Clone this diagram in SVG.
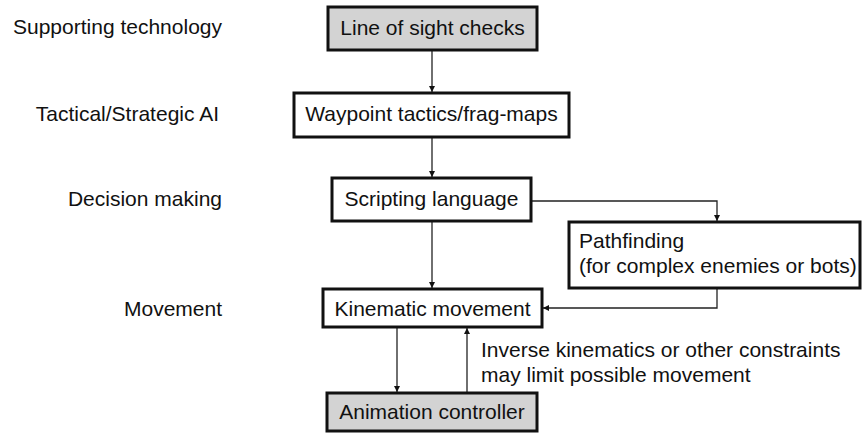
<svg xmlns="http://www.w3.org/2000/svg" width="863" height="433" viewBox="0 0 863 433">
<style>
text{font-family:"Liberation Sans",Arial,Helvetica,sans-serif;font-size:21px;fill:#111}
.box{fill:#fff;stroke:#111;stroke-width:3}
.gray{fill:#d3d3d3}
.lbl{text-anchor:end}
.mid{text-anchor:middle}
.con{fill:none;stroke:#222;stroke-width:1.3}
</style>
<defs>
<marker id="ah" viewBox="0 0 10 10" refX="10" refY="5" markerWidth="6" markerHeight="8" markerUnits="userSpaceOnUse" orient="auto">
<path d="M0,0 L10,5 L0,10 z" fill="#111"/>
</marker>
</defs>
<g id="layer-labels">
<text class="lbl" x="222" y="34">Supporting technology</text>
<text class="lbl" x="219" y="121">Tactical/Strategic AI</text>
<text class="lbl" x="222" y="206">Decision making</text>
<text class="lbl" x="222" y="316">Movement</text>
</g>
<g id="connectors">
<line class="con" x1="432" y1="50" x2="432" y2="92" marker-end="url(#ah)"/>
<line class="con" x1="432" y1="137" x2="432" y2="177" marker-end="url(#ah)"/>
<line class="con" x1="432" y1="221" x2="432" y2="288" marker-end="url(#ah)"/>
<polyline class="con" points="531,201 717,201 717,221" marker-end="url(#ah)"/>
<polyline class="con" points="717,288 717,308 543,308" marker-end="url(#ah)"/>
<line class="con" x1="397" y1="327" x2="397" y2="392" marker-end="url(#ah)"/>
<line class="con" x1="467" y1="393" x2="467" y2="328" marker-end="url(#ah)"/>
</g>
<g id="node-los">
<rect class="box gray" x="328" y="7" width="209" height="43"/>
<text class="mid" x="432.5" y="35">Line of sight checks</text>
</g>
<g id="node-waypoint">
<rect class="box" x="294" y="93" width="275" height="44"/>
<text class="mid" x="431.5" y="121">Waypoint tactics/frag-maps</text>
</g>
<g id="node-scripting">
<rect class="box" x="332" y="178" width="199" height="43"/>
<text class="mid" x="431.5" y="206">Scripting language</text>
</g>
<g id="node-pathfinding">
<rect class="box" x="569" y="222" width="291" height="66"/>
<text x="579" y="248">Pathfinding</text>
<text x="579" y="273">(for complex enemies or bots)</text>
</g>
<g id="node-kinematic">
<rect class="box" x="323" y="289" width="219" height="38"/>
<text class="mid" x="432.5" y="316">Kinematic movement</text>
</g>
<g id="node-animation">
<rect class="box gray" x="327" y="393" width="210" height="38"/>
<text class="mid" x="432" y="419">Animation controller</text>
</g>
<g id="annotation">
<text x="481" y="357">Inverse kinematics or other constraints</text>
<text x="481" y="382">may limit possible movement</text>
</g>
</svg>
